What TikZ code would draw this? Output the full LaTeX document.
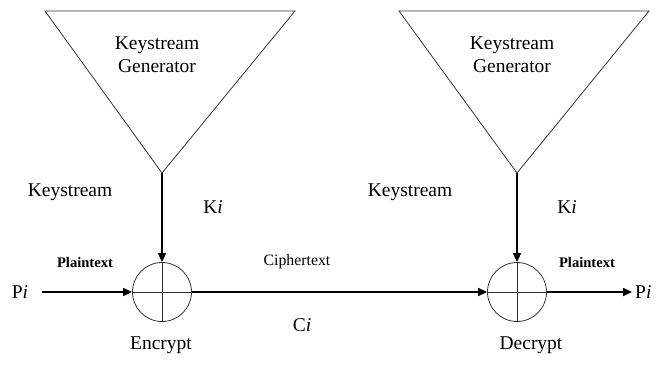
\documentclass[tikz,border=0pt]{standalone}
\usepackage{fontspec}
\setmainfont{Liberation Serif}
\usetikzlibrary{arrows.meta}
\begin{document}
\begin{tikzpicture}[x=1pt,y=-1pt,
  thinline/.style={draw=black!80,line width=0.8pt},
  flow/.style={draw=black,line width=1.6pt,-{Triangle[length=9pt,width=8pt]}},
  big/.style={font=\fontsize{19.5}{23}\selectfont,inner sep=0pt,align=center},
  small/.style={font=\fontsize{15.8}{18}\selectfont,inner sep=0pt},
  smallbold/.style={font=\fontsize{14.6}{17}\selectfont\bfseries,inner sep=0pt}]
\useasboundingbox (0,0) rectangle (663,365);
% triangles
\draw[thinline] (45,11) -- (295,11) -- (162,173) -- cycle;
\draw[thinline] (399,11) -- (649,11) -- (517,173) -- cycle;
\coordinate (apexL) at (162,173);
\coordinate (apexR) at (517,173);
% XOR circles
\node[circle,thinline,minimum size=59pt,inner sep=0pt] (xorL) at (162,292) {};
\node[circle,thinline,minimum size=59pt,inner sep=0pt] (xorR) at (517,292) {};
\draw[thinline] (xorL.north) -- (xorL.south) (xorL.west) -- (xorL.east);
\draw[thinline] (xorR.north) -- (xorR.south) (xorR.west) -- (xorR.east);
% texts
\node[big] (genL) at (157,55) {Keystream\\Generator};
\node[big] (genR) at (512,55) {Keystream\\Generator};
\node[big] (ksL) at (70,192) {Keystream};
\node[big] (ksR) at (410,192) {Keystream};
\node[big] (kiL) at (213,207) {K\textit{i}};
\node[big] (kiR) at (567,207) {K\textit{i}};
\node[smallbold] (ptL) at (85,262) {Plaintext};
\node[smallbold] (ptR) at (587,262) {Plaintext};
\node[small] (ct) at (297,262) {Ciphertext};
\node[big] (piL) at (20,292) {P\textit{i}};
\node[big,anchor=west] (piR) at (635,292) {P\textit{i}};
\node[big] (ci) at (302,325) {C\textit{i}};
\node[big] (enc) at (161,345) {Encrypt};
\node[big] (dec) at (531,345) {Decrypt};
\coordinate (outR) at (632,292);
% flows
\draw[flow] (apexL) -- (xorL.north);
\draw[flow] (apexR) -- (xorR.north);
\draw[flow] (piL.east) ++(14,0) -- (xorL.west);
\draw[flow] (xorL.east) -- (xorR.west);
\draw[flow] (xorR.east) -- (outR);
\end{tikzpicture}
\end{document}
